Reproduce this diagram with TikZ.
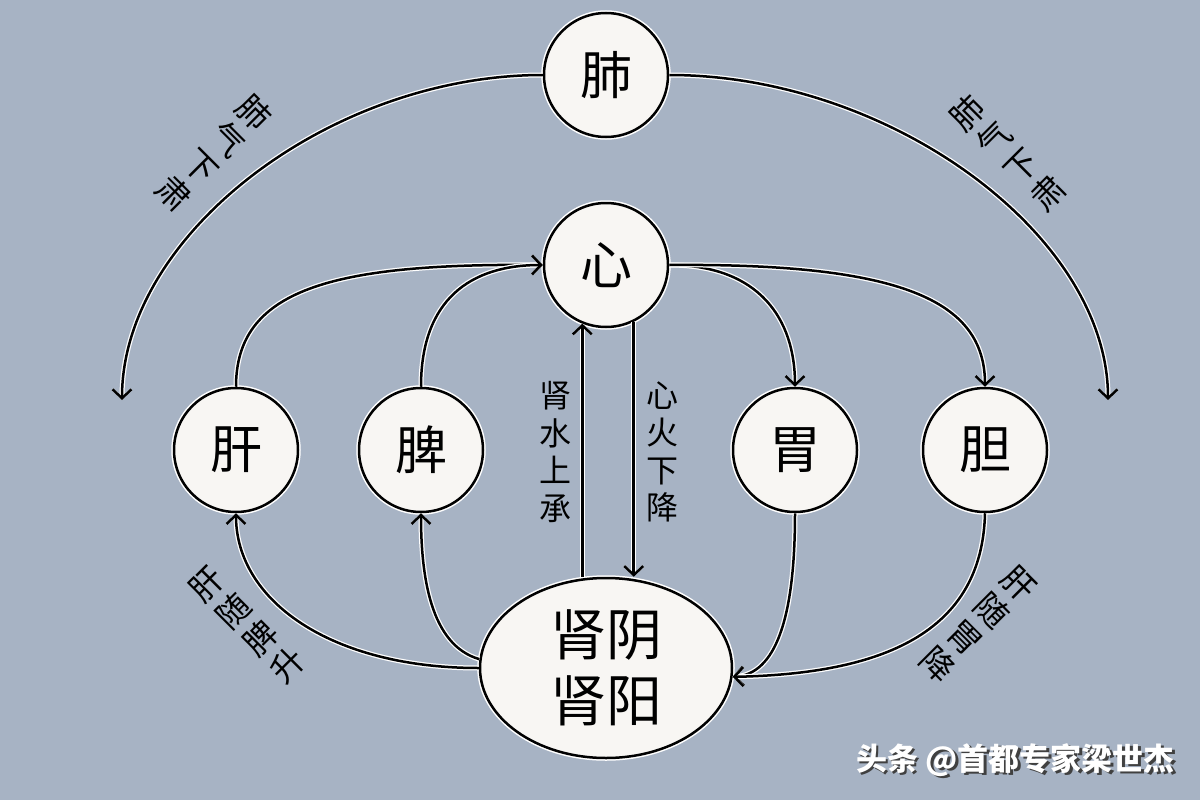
\documentclass[tikz,border=0pt]{standalone}
\usepackage{fontspec}
\setmainfont{Noto Sans CJK SC}
\usetikzlibrary{arrows.meta,shapes.geometric}
\definecolor{bg}{RGB}{167,179,196}
\definecolor{nodefill}{RGB}{248,246,243}
\tikzset{
  organ/.style={circle, minimum size=124pt, inner sep=0pt, fill=nodefill, draw=black,
    line width=2.5pt, preaction={draw=white,line width=5.5pt},
    font=\fontsize{52}{52}\selectfont},
  kidney/.style={ellipse, minimum width=252pt, minimum height=180pt, inner sep=0pt,
    fill=nodefill, draw=black, line width=2.5pt, preaction={draw=white,line width=5.5pt},
    align=center, font=\fontsize{56}{66}\selectfont},
  conn/.style={line width=2.5pt, draw=black,
    -{Straight Barb[length=9pt,width=19pt,line width=2.5pt]},
    preaction={draw=white, line width=5pt}},
  lbl/.style={align=center, inner sep=0pt, font=\fontsize{33}{38}\selectfont},
  vlbl/.style={align=center, inner sep=0pt, font=\fontsize{32}{37.5}\selectfont},
}
\begin{document}
\begin{tikzpicture}[x=1pt,y=-1pt]
\fill[bg] (0,0) rectangle (1200,800);
\useasboundingbox (0,0) rectangle (1200,800);

% nodes
\node[organ] (fei) at (606,75) {肺};
\node[organ] (xin) at (606,265) {心};
\node[organ] (gan) at (236,450) {肝};
\node[organ] (pi) at (421,450) {脾};
\node[organ] (wei) at (795,450) {胃};
\node[organ] (dan) at (985,450) {胆};
\node[kidney] (shen) at (606,668) {肾阴\\肾阳};

% free ends of the lung arcs
\coordinate (lend) at (122,400);
\coordinate (rend) at (1108,400);

% lung arcs
\draw[conn] (fei.west) .. controls (330,75) and (122,235) .. (lend);
\draw[conn] (fei.east) .. controls (890,75) and (1108,235) .. (rend);

% up to heart
\draw[conn] (gan.north) .. controls (236,290) and (330,263) .. (xin.west);
\draw[conn] (pi.north) .. controls (421,300) and (470,265) .. (xin.west);

% heart down
\draw[conn] (xin.east) .. controls (760,265) and (795,320) .. (wei.north);
\draw[conn] (xin.east) .. controls (900,263) and (985,300) .. (dan.north);

% vertical lines
\draw[conn] (xin.248 |- shen.north) -- (xin.248);
\draw[conn] (xin.296) -- (xin.296 |- shen.north);

% kidney up
\draw[conn] (shen.west) .. controls (330,668) and (236,600) .. (gan.south);
\draw[conn] (shen.176) .. controls (430,645) and (421,575) .. (pi.south);

% down to kidney
\draw[conn] (wei.south) .. controls (795,620) and (775,674) .. (shen.-4);
\draw[conn] (dan.south) .. controls (982,640) and (870,674) .. (shen.-4);

% labels
\node[lbl, rotate=-45] (l1) at (214,153) {肺\\气\\下\\肃};
\node[lbl, rotate=45] (l2) at (1008,153) {肺\\气\\下\\肃};
\node[lbl, rotate=45] (l3) at (247,625) {肝\\随\\脾\\升};
\node[lbl, rotate=-45] (l4) at (978,624) {肝\\随\\胃\\降};
\node[vlbl] (l5) at (555,452) {肾\\水\\上\\承};
\node[vlbl] (l6) at (662,452) {心\\火\\下\\降};

% watermark
\node[anchor=east, inner sep=0pt, font=\fontsize{31}{31}\selectfont\bfseries, text=black!75] (wm0) at (1177.5,762.5) {头条 @首都专家梁世杰};
\node[anchor=east, inner sep=0pt, font=\fontsize{31}{31}\selectfont\bfseries, text=white] (wm) at (1175,760) {头条 @首都专家梁世杰};
\end{tikzpicture}
\end{document}
